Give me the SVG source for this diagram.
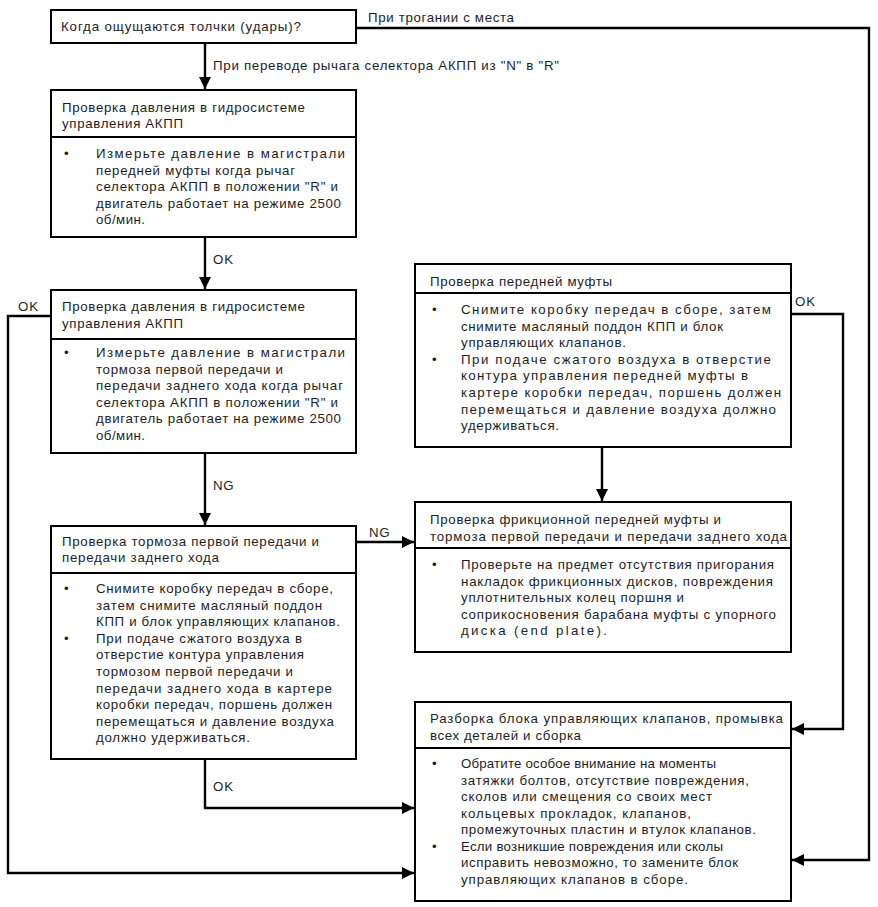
<svg xmlns="http://www.w3.org/2000/svg" width="878" height="907" viewBox="0 0 878 907">
<style>
.box{fill:#fff;stroke:#000;stroke-width:2}
.div{stroke:#000;stroke-width:2}
.t{font-family:"Liberation Sans",Arial,sans-serif;font-size:13.3px;fill:#1e1e1e}
.c{fill:none;stroke:#000;stroke-width:2.4}
</style>
<defs>
<marker id="ah" markerUnits="userSpaceOnUse" markerWidth="12" markerHeight="12" refX="12" refY="6" orient="auto">
<path d="M0,0 L12,6 L0,12 z" fill="#000"/>
</marker>
</defs>
<rect width="878" height="907" fill="#fff"/>
<g id="connectors">
<polyline class="c" points="356,28 869,28 869,860 792,860" marker-end="url(#ah)"/>
<text class="t" x="368" y="22" textLength="146" lengthAdjust="spacing">При трогании с места</text>
<line class="c" x1="205" y1="43" x2="205" y2="89" marker-end="url(#ah)"/>
<text class="t" x="213" y="70" textLength="346" lengthAdjust="spacing">При переводе рычага селектора АКПП из "N" в "R"</text>
<line class="c" x1="205" y1="237" x2="205" y2="289" marker-end="url(#ah)"/>
<text class="t" x="213" y="264" textLength="20" lengthAdjust="spacing">OK</text>
<polyline class="c" points="51,316 8,316 8,873 414,873" marker-end="url(#ah)"/>
<text class="t" x="18" y="311" textLength="20" lengthAdjust="spacing">OK</text>
<line class="c" x1="205" y1="453" x2="205" y2="525" marker-end="url(#ah)"/>
<text class="t" x="213" y="490" textLength="20.5" lengthAdjust="spacing">NG</text>
<line class="c" x1="356" y1="542" x2="414" y2="542" marker-end="url(#ah)"/>
<text class="t" x="369" y="537" textLength="20.5" lengthAdjust="spacing">NG</text>
<line class="c" x1="602" y1="447" x2="602" y2="501" marker-end="url(#ah)"/>
<polyline class="c" points="791,314 843,314 843,729 792,729" marker-end="url(#ah)"/>
<text class="t" x="795" y="306" textLength="20" lengthAdjust="spacing">OK</text>
<polyline class="c" points="205,759 205,808 414,808" marker-end="url(#ah)"/>
<text class="t" x="213" y="791" textLength="20" lengthAdjust="spacing">OK</text>
</g>
<g id="n1">
<rect class="box" x="51" y="10" width="305" height="33"/>
<text class="t" x="61" y="31" textLength="240" lengthAdjust="spacing">Когда ощущаются толчки (удары)?</text>
</g>
<g id="n2">
<rect class="box" x="51" y="90" width="305" height="147"/>
<line class="div" x1="51" y1="137" x2="356" y2="137"/>
<text class="t" x="62" y="112" textLength="243" lengthAdjust="spacing">Проверка давления в гидросистеме</text>
<text class="t" x="62" y="128" textLength="121" lengthAdjust="spacing">управления АКПП</text>
<text class="t" x="64" y="158">•</text>
<text class="t" x="96" y="158" textLength="249" lengthAdjust="spacing">Измерьте давление в магистрали</text>
<text class="t" x="96" y="174.6" textLength="199" lengthAdjust="spacing">передней муфты когда рычаг</text>
<text class="t" x="96" y="191.2" textLength="242" lengthAdjust="spacing">селектора АКПП в положении "R" и</text>
<text class="t" x="96" y="207.8" textLength="245" lengthAdjust="spacing">двигатель работает на режиме 2500</text>
<text class="t" x="96" y="224.4" textLength="49" lengthAdjust="spacing">об/мин.</text>
</g>
<g id="n3">
<rect class="box" x="51" y="290" width="305" height="163"/>
<line class="div" x1="51" y1="339" x2="356" y2="339"/>
<text class="t" x="62" y="311" textLength="243" lengthAdjust="spacing">Проверка давления в гидросистеме</text>
<text class="t" x="62" y="327.5" textLength="121" lengthAdjust="spacing">управления АКПП</text>
<text class="t" x="64" y="357">•</text>
<text class="t" x="96" y="357" textLength="249" lengthAdjust="spacing">Измерьте давление в магистрали</text>
<text class="t" x="96" y="373.6" textLength="187" lengthAdjust="spacing">тормоза первой передачи и</text>
<text class="t" x="96" y="390.2" textLength="247" lengthAdjust="spacing">передачи заднего хода когда рычаг</text>
<text class="t" x="96" y="406.8" textLength="242" lengthAdjust="spacing">селектора АКПП в положении "R" и</text>
<text class="t" x="96" y="423.4" textLength="245" lengthAdjust="spacing">двигатель работает на режиме 2500</text>
<text class="t" x="96" y="440" textLength="49" lengthAdjust="spacing">об/мин.</text>
</g>
<g id="n4">
<rect class="box" x="51" y="526" width="305" height="233"/>
<line class="div" x1="51" y1="573" x2="356" y2="573"/>
<text class="t" x="62" y="546" textLength="257" lengthAdjust="spacing">Проверка тормоза первой передачи и</text>
<text class="t" x="62" y="562" textLength="157" lengthAdjust="spacing">передачи заднего хода</text>
<text class="t" x="64" y="593">•</text>
<text class="t" x="96" y="593" textLength="237" lengthAdjust="spacing">Снимите коробку передач в сборе,</text>
<text class="t" x="96" y="609.6" textLength="226" lengthAdjust="spacing">затем снимите масляный поддон</text>
<text class="t" x="96" y="626.2" textLength="244" lengthAdjust="spacing">КПП и блок управляющих клапанов.</text>
<text class="t" x="64" y="642.8">•</text>
<text class="t" x="96" y="642.8" textLength="206" lengthAdjust="spacing">При подаче сжатого воздуха в</text>
<text class="t" x="96" y="659.4" textLength="208" lengthAdjust="spacing">отверстие контура управления</text>
<text class="t" x="96" y="676" textLength="197" lengthAdjust="spacing">тормозом первой передачи и</text>
<text class="t" x="96" y="692.6" textLength="236" lengthAdjust="spacing">передачи заднего хода в картере</text>
<text class="t" x="96" y="709.2" textLength="236" lengthAdjust="spacing">коробки передач, поршень должен</text>
<text class="t" x="96" y="725.8" textLength="238" lengthAdjust="spacing">перемещаться и давление воздуха</text>
<text class="t" x="96" y="742.4" textLength="154" lengthAdjust="spacing">должно удерживаться.</text>
</g>
<g id="n5">
<rect class="box" x="415" y="264" width="376" height="183"/>
<line class="div" x1="415" y1="293" x2="791" y2="293"/>
<text class="t" x="430" y="286" textLength="182" lengthAdjust="spacing">Проверка передней муфты</text>
<text class="t" x="432" y="314">•</text>
<text class="t" x="461" y="314" textLength="310" lengthAdjust="spacing">Снимите коробку передач в сборе, затем</text>
<text class="t" x="461" y="330.6" textLength="262" lengthAdjust="spacing">снимите масляный поддон КПП и блок</text>
<text class="t" x="461" y="347.2" textLength="165" lengthAdjust="spacing">управляющих клапанов.</text>
<text class="t" x="432" y="363.8">•</text>
<text class="t" x="461" y="363.8" textLength="310" lengthAdjust="spacing">При подаче сжатого воздуха в отверстие</text>
<text class="t" x="461" y="380.4" textLength="287" lengthAdjust="spacing">контура управления передней муфты в</text>
<text class="t" x="461" y="397" textLength="320" lengthAdjust="spacing">картере коробки передач, поршень должен</text>
<text class="t" x="461" y="413.6" textLength="315" lengthAdjust="spacing">перемещаться и давление воздуха должно</text>
<text class="t" x="461" y="430.2" textLength="98" lengthAdjust="spacing">удерживаться.</text>
</g>
<g id="n6">
<rect class="box" x="415" y="502" width="376" height="150"/>
<line class="div" x1="415" y1="548" x2="791" y2="548"/>
<text class="t" x="430" y="524" textLength="291" lengthAdjust="spacing">Проверка фрикционной передней муфты и</text>
<text class="t" x="430" y="540.5" textLength="357" lengthAdjust="spacing">тормоза первой передачи и передачи заднего хода</text>
<text class="t" x="432" y="569">•</text>
<text class="t" x="461" y="569" textLength="313" lengthAdjust="spacing">Проверьте на предмет отсутствия пригорания</text>
<text class="t" x="461" y="585.6" textLength="312" lengthAdjust="spacing">накладок фрикционных дисков, повреждения</text>
<text class="t" x="461" y="602.2" textLength="223" lengthAdjust="spacing">уплотнительных колец поршня и</text>
<text class="t" x="461" y="618.8" textLength="315" lengthAdjust="spacing">соприкосновения барабана муфты с упорного</text>
<text class="t" x="461" y="635.4" textLength="146" lengthAdjust="spacing">диска (end plate).</text>
</g>
<g id="n7">
<rect class="box" x="415" y="702" width="376" height="199"/>
<line class="div" x1="415" y1="748" x2="791" y2="748"/>
<text class="t" x="430" y="723" textLength="353" lengthAdjust="spacing">Разборка блока управляющих клапанов, промывка</text>
<text class="t" x="430" y="740" textLength="151" lengthAdjust="spacing">всех деталей и сборка</text>
<text class="t" x="432" y="768">•</text>
<text class="t" x="461" y="768" textLength="255" lengthAdjust="spacing">Обратите особое внимание на моменты</text>
<text class="t" x="461" y="784.5" textLength="288" lengthAdjust="spacing">затяжки болтов, отсутствие повреждения,</text>
<text class="t" x="461" y="801" textLength="251" lengthAdjust="spacing">сколов или смещения со своих мест</text>
<text class="t" x="461" y="817.5" textLength="230" lengthAdjust="spacing">кольцевых прокладок, клапанов,</text>
<text class="t" x="461" y="834" textLength="295" lengthAdjust="spacing">промежуточных пластин и втулок клапанов.</text>
<text class="t" x="432" y="850.5">•</text>
<text class="t" x="461" y="850.5" textLength="262" lengthAdjust="spacing">Если возникшие повреждения или сколы</text>
<text class="t" x="461" y="867" textLength="277" lengthAdjust="spacing">исправить невозможно, то замените блок</text>
<text class="t" x="461" y="883.5" textLength="227" lengthAdjust="spacing">управляющих клапанов в сборе.</text>
</g>
</svg>
